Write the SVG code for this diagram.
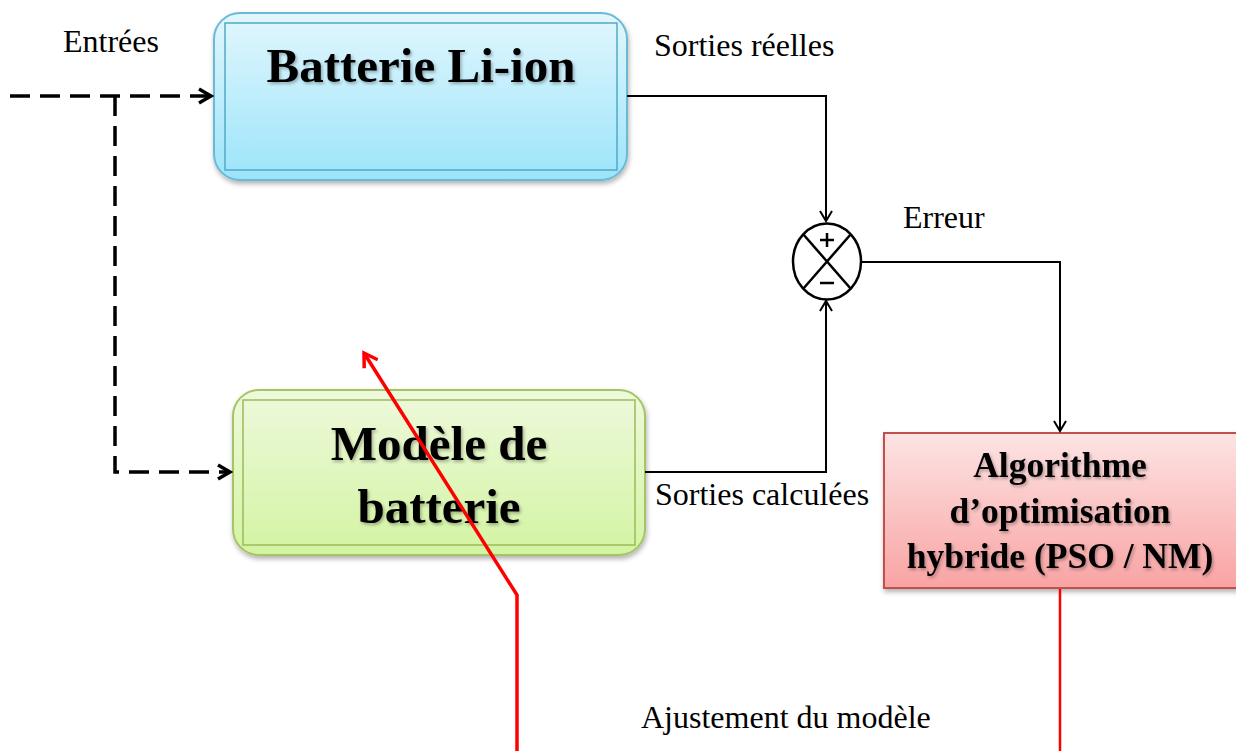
<svg xmlns="http://www.w3.org/2000/svg" width="1236" height="751" viewBox="0 0 1236 751">
<style>
.lbl{font-family:"Liberation Serif","Times New Roman",serif;font-size:32px;fill:#000}
.big{font-family:"Liberation Serif","Times New Roman",serif;font-size:49px;font-weight:bold;fill:#000;text-anchor:middle}
.mid{font-family:"Liberation Serif","Times New Roman",serif;font-size:35.5px;font-weight:bold;fill:#000;text-anchor:middle}
.wire{fill:none;stroke:#000;stroke-width:2}
.dash{fill:none;stroke:#000;stroke-width:3.5;stroke-dasharray:20 10}
.red{fill:none;stroke:#ff0000;stroke-width:3.5}
</style>
<defs>
<linearGradient id="gBlue" x1="0" y1="0" x2="0" y2="1"><stop offset="0" stop-color="#e2f7fd"/><stop offset="1" stop-color="#9ce4fa"/></linearGradient>
<linearGradient id="gGreen" x1="0" y1="0" x2="0" y2="1"><stop offset="0" stop-color="#eef9dc"/><stop offset="1" stop-color="#d3f4a2"/></linearGradient>
<linearGradient id="gRed" x1="0" y1="0" x2="0" y2="1"><stop offset="0" stop-color="#fde4e4"/><stop offset="1" stop-color="#f9a3a3"/></linearGradient>
<filter id="sh" x="-10%" y="-10%" width="120%" height="130%"><feDropShadow dx="1" dy="3" stdDeviation="2.5" flood-color="#000" flood-opacity="0.3"/></filter>
<filter id="tsh" x="-5%" y="-20%" width="110%" height="140%"><feDropShadow dx="1.5" dy="2" stdDeviation="1.5" flood-color="#000" flood-opacity="0.3"/></filter>
<marker id="ah" markerWidth="14" markerHeight="14" refX="12" refY="7" orient="auto" markerUnits="userSpaceOnUse"><path d="M2,1 L12,7 L2,13" fill="none" stroke="#000" stroke-width="2"/></marker>
<marker id="ahd" markerWidth="18" markerHeight="18" refX="15" refY="9" orient="auto" markerUnits="userSpaceOnUse"><path d="M3,2 L15,9 L3,16" fill="none" stroke="#000" stroke-width="3.5"/></marker>
<marker id="ahr" markerWidth="20" markerHeight="20" refX="16" refY="10" orient="auto" markerUnits="userSpaceOnUse"><path d="M3,2 L16,10 L3,18" fill="none" stroke="#ff0000" stroke-width="3.5"/></marker>
</defs>

<g id="batterie">
<rect x="214" y="13" width="413" height="167" rx="26" fill="url(#gBlue)" stroke="#6bbad6" stroke-width="2" filter="url(#sh)"/>
<rect x="225" y="23" width="392" height="147" fill="none" stroke="#52a9c8" stroke-width="1.5"/>
<text class="big" x="421" y="82" filter="url(#tsh)">Batterie Li-ion</text>
</g>

<g id="modele">
<rect x="233" y="390" width="412" height="165" rx="26" fill="url(#gGreen)" stroke="#a5c466" stroke-width="2" filter="url(#sh)"/>
<rect x="243" y="400" width="392" height="145" fill="none" stroke="#9bbb59" stroke-width="1.5"/>
<text class="big" x="439" y="460" filter="url(#tsh)">Modèle de</text>
<text class="big" x="439" y="523" filter="url(#tsh)">batterie</text>
</g>

<g id="algorithme">
<rect x="884" y="433" width="360" height="155" fill="url(#gRed)" stroke="#c0504d" stroke-width="2" filter="url(#sh)"/>
<text class="mid" x="1060" y="477" filter="url(#tsh)">Algorithme</text>
<text class="mid" x="1060" y="523" filter="url(#tsh)">d’optimisation</text>
<text class="mid" x="1060" y="568" filter="url(#tsh)">hybride (PSO / NM)</text>
</g>

<g id="sommateur">
<ellipse cx="827" cy="261.5" rx="34" ry="38" fill="#fff" stroke="#000" stroke-width="2.5"/>
<line x1="803" y1="234" x2="851" y2="289" stroke="#000" stroke-width="2.5"/>
<line x1="851" y1="234" x2="803" y2="289" stroke="#000" stroke-width="2.5"/>
<path d="M820,240 H834 M827,233 V247" stroke="#000" stroke-width="2.5"/>
<path d="M820,283 H834" stroke="#000" stroke-width="2.5"/>
</g>

<g id="connecteurs">
<polyline class="wire" points="627,96 826,96 826,221" marker-end="url(#ah)"/>
<polyline class="wire" points="645,472 826,472 826,301" marker-end="url(#ah)"/>
<polyline class="wire" points="861,262 1060,262 1060,431" marker-end="url(#ah)"/>
<polyline class="dash" points="10,96 211,96" marker-end="url(#ahd)"/>
<polyline class="dash" points="115,96 115,472 230,472" marker-end="url(#ahd)"/>
<polyline class="red" points="517,751 517,595 364,353" marker-end="url(#ahr)"/>
<line x1="1060" y1="589" x2="1060" y2="751" stroke="#ff0000" stroke-width="2.5"/>
</g>

<g id="etiquettes">
<text class="lbl" x="63" y="52">Entrées</text>
<text class="lbl" x="654" y="56">Sorties réelles</text>
<text class="lbl" x="903" y="228">Erreur</text>
<text class="lbl" x="655" y="505">Sorties calculées</text>
<text class="lbl" x="641" y="728">Ajustement du modèle</text>
</g>
</svg>
